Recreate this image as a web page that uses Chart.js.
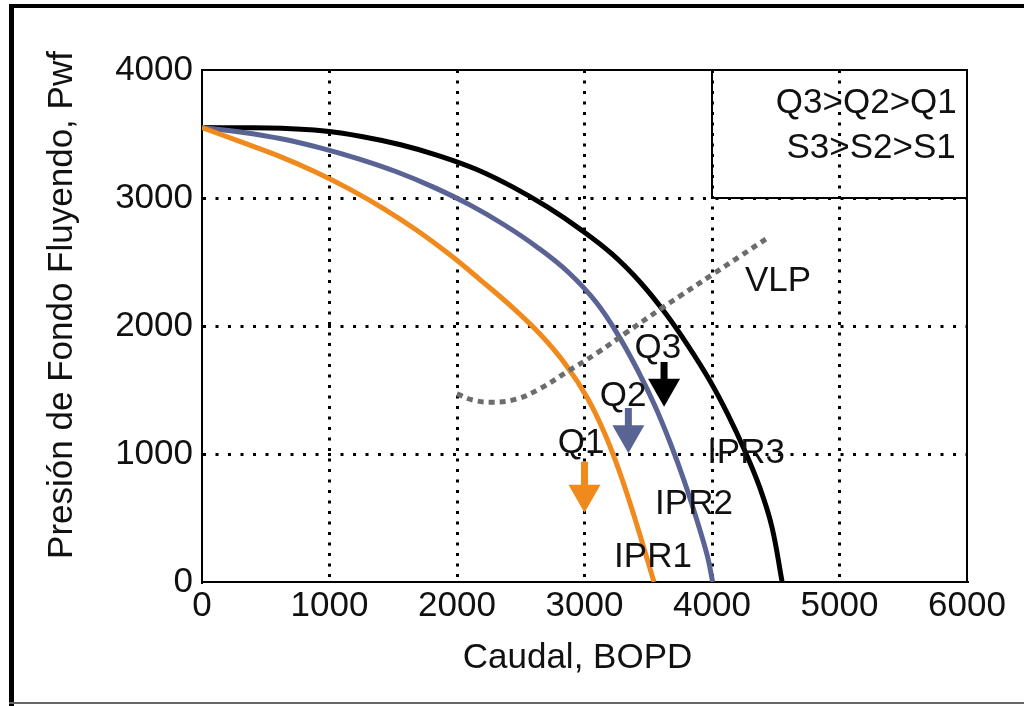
<!DOCTYPE html>
<html>
<head>
<meta charset="utf-8">
<script src="https://cdn.jsdelivr.net/npm/chart.js@4"></script>
<style>
  html, body { margin: 0; padding: 0; background: #fff; }
  canvas { display: block; }
</style>
</head>
<body>
<canvas id="iprChart" width="1024" height="706"></canvas>
<script>
// IPR / VLP curves: caudal (BOPD) vs presion de fondo fluyendo (psi)
const ipr1Q = [0, 296, 590, 878, 1158, 1430, 1693, 1945, 2187, 2425, 2651, 2853, 3024, 3161, 3274, 3373, 3465, 3545];
const ipr1P = [3550, 3442, 3333, 3209, 3069, 2913, 2742, 2556, 2357, 2154, 1937, 1698, 1436, 1155, 863, 567, 268, 0];

const ipr2Q = [0, 312, 621, 927, 1228, 1525, 1815, 2097, 2369, 2629, 2873, 3087, 3263, 3415, 3552, 3672, 3780, 3877, 3965, 4005];
const ipr2P = [3550, 3514, 3463, 3392, 3306, 3205, 3085, 2948, 2791, 2616, 2420, 2191, 1931, 1658, 1377, 1088, 795, 498, 198, 0];

const ipr3Q = [0, 314, 627, 940, 1251, 1558, 1860, 2155, 2436, 2708, 2968, 3215, 3437, 3635, 3814, 3980, 4128, 4260, 4378, 4470, 4550];
const ipr3P = [3550, 3549, 3544, 3525, 3481, 3416, 3330, 3223, 3087, 2930, 2755, 2563, 2342, 2099, 1843, 1578, 1302, 1019, 729, 430, 0];

const vlpQ = [2000, 2130, 2290, 2470, 2650, 2860, 3100, 3330, 3600, 3750, 4000, 4220, 4440];
const vlpP = [1470, 1420, 1405, 1430, 1510, 1640, 1790, 1950, 2135, 2235, 2400, 2545, 2690];

const xTicks = [0, 1000, 2000, 3000, 4000, 5000, 6000];
const yTicks = [0, 1000, 2000, 3000, 4000];

// operating point arrows (q, top of shaft, tip) in data units
const arrowQ = [3624, 3344, 3000];
const arrowTop = [1719, 1359, 940];
const arrowTip = [1370, 1005, 541];

// curve labels
const labelText = ['IPR1', 'IPR2', 'IPR3', 'VLP', 'Q3', 'Q2', 'Q1'];
const labelQ = [3537, 3859, 4267, 4518, 3576, 3302, 2973];
const labelP = [195, 609, 1008, 2352, 1828, 1453, 1086];

const legendLines = ['Q3>Q2>Q1', 'S3>S2>S1'];

const ORANGE = '#f08a1d';
const BLUE = '#5a6494';
const BLACK = '#000000';
const GRAY = '#6c6c6c';
const FONT = '"Liberation Sans", Arial, sans-serif';

const toPts = (qs, ps) => qs.map((q, i) => ({ x: q, y: ps[i] }));

const overlay = {
  id: 'overlay',
  beforeDraw(chart) {
    const { ctx, width, height } = chart;
    ctx.save();
    ctx.fillStyle = '#fff';
    ctx.fillRect(0, 0, width, height);
    // outer frame of the figure
    ctx.fillStyle = '#000';
    ctx.fillRect(9, 4, 5, height - 4);
    ctx.fillRect(9, 4, width - 9, 4);
    ctx.fillStyle = '#666';
    ctx.fillRect(9, 702, width - 9, 2);
    ctx.restore();
  },
  afterDatasetsDraw(chart) {
    const { ctx, chartArea: a } = chart;
    const xs = chart.scales.x, ys = chart.scales.y;
    ctx.save();

    // top and right borders of the plot
    ctx.strokeStyle = '#000';
    ctx.lineWidth = 2;
    ctx.beginPath();
    ctx.moveTo(a.left, a.top);
    ctx.lineTo(a.right, a.top);
    ctx.lineTo(a.right, a.bottom);
    ctx.stroke();

    // legend box
    const bx = xs.getPixelForValue(4000), by = ys.getPixelForValue(3000);
    ctx.strokeRect(bx, a.top, a.right - bx, by - a.top);

    ctx.font = '35px ' + FONT;
    ctx.fillStyle = '#111';
    ctx.textAlign = 'right';
    ctx.textBaseline = 'middle';
    ctx.fillText(legendLines[0], xs.getPixelForValue(5920), ys.getPixelForValue(3742));
    ctx.fillText(legendLines[1], xs.getPixelForValue(5912), ys.getPixelForValue(3391));

    // arrows
    const arrowColors = [BLACK, BLUE, ORANGE];
    arrowQ.forEach((q, i) => {
      const x = xs.getPixelForValue(q);
      const yTop = ys.getPixelForValue(arrowTop[i]);
      const yTip = ys.getPixelForValue(arrowTip[i]);
      const headH = 28, headW = 32;
      ctx.fillStyle = arrowColors[i];
      ctx.fillRect(x - 3.5, yTop, 7, yTip - headH - yTop + 1);
      ctx.beginPath();
      ctx.moveTo(x - headW / 2, yTip - headH);
      ctx.lineTo(x + headW / 2, yTip - headH);
      ctx.lineTo(x, yTip);
      ctx.closePath();
      ctx.fill();
    });

    // text labels
    ctx.fillStyle = '#111';
    ctx.textAlign = 'center';
    labelText.forEach((t, i) => {
      ctx.fillText(t, xs.getPixelForValue(labelQ[i]), ys.getPixelForValue(labelP[i]));
    });

    // axis titles
    ctx.fillText('Caudal, BOPD', (a.left + a.right) / 2 - 7, a.bottom + 76);
    ctx.translate(62, (a.top + a.bottom) / 2 - 21);
    ctx.rotate(-Math.PI / 2);
    ctx.fillText('Presión de Fondo Fluyendo, Pwf', 0, 0);
    ctx.restore();
  }
};

const lineSet = (label, pts, color, extra) => Object.assign({
  label,
  data: pts,
  borderColor: color,
  backgroundColor: color,
  borderWidth: 5,
  pointRadius: 0,
  cubicInterpolationMode: 'default',
  tension: 0.4,
  fill: false
}, extra || {});

const edgeHidden = (max) => (c) => (c.tick.value === 0 || c.tick.value === max) ? 'rgba(0,0,0,0)' : '#000';

new Chart(document.getElementById('iprChart'), {
  type: 'line',
  data: {
    datasets: [
      lineSet('VLP', toPts(vlpQ, vlpP), GRAY, { borderDash: [6, 5], borderCapStyle: 'butt' }),
      lineSet('IPR1', toPts(ipr1Q, ipr1P), ORANGE),
      lineSet('IPR2', toPts(ipr2Q, ipr2P), BLUE),
      lineSet('IPR3', toPts(ipr3Q, ipr3P), BLACK)
    ]
  },
  options: {
    responsive: false,
    animation: false,
    devicePixelRatio: 1,
    layout: { padding: { left: 0, top: 70, right: 57, bottom: 0 } },
    plugins: { legend: { display: false }, tooltip: { enabled: false } },
    scales: {
      x: {
        type: 'linear',
        min: 0, max: 6000,
        afterBuildTicks: (s) => { s.ticks = xTicks.map(v => ({ value: v })); },
        afterFit: (s) => { s.height = 124; },
        grid: { color: edgeHidden(6000), lineWidth: 3, drawTicks: false },
        border: { color: '#000', width: 2, dash: [3, 7.5] },
        ticks: { color: '#111', padding: 3, font: { family: FONT, size: 35 }, callback: (v) => String(v) }
      },
      y: {
        type: 'linear',
        min: 0, max: 4000,
        afterBuildTicks: (s) => { s.ticks = yTicks.map(v => ({ value: v })); },
        afterFit: (s) => { s.width = 202; },
        grid: { color: edgeHidden(4000), lineWidth: 3, drawTicks: false },
        border: { color: '#000', width: 2, dash: [3, 9.5] },
        ticks: { color: '#111', padding: 9, font: { family: FONT, size: 35 }, callback: (v) => String(v) }
      }
    }
  },
  plugins: [overlay]
});
</script>
</body>
</html>
